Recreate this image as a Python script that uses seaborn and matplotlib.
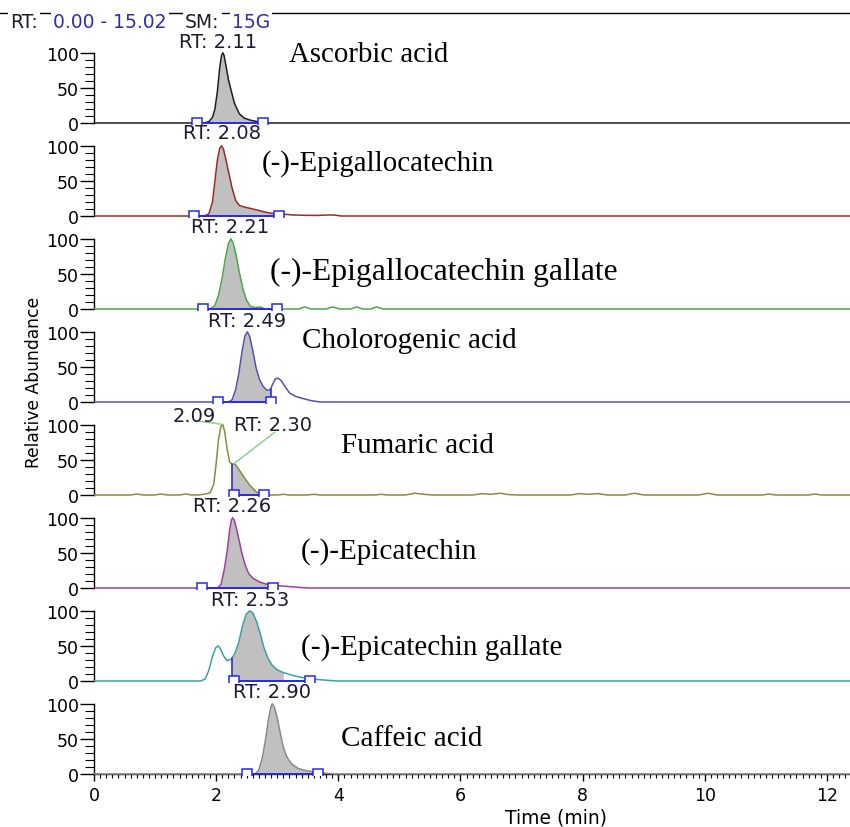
import numpy as np
import matplotlib
matplotlib.use("Agg")
import matplotlib.pyplot as plt
import seaborn as sns
from matplotlib.ticker import MultipleLocator, FixedLocator

# ------------------------------------------------------------------ data
compounds = ["Ascorbic acid", "(-)-Epigallocatechin", "(-)-Epigallocatechin gallate",
             "Cholorogenic acid", "Fumaric acid", "(-)-Epicatechin",
             "(-)-Epicatechin gallate", "Caffeic acid"]
rt_labels = ["RT: 2.11", "RT: 2.08", "RT: 2.21", "RT: 2.49", "RT: 2.30",
             "RT: 2.26", "RT: 2.53", "RT: 2.90"]
fumaric_second_label = "2.09"
header_parts = ["RT:", "0.00 - 15.02", "SM:", "15G"]
x_label = "Time (min)"
y_label = "Relative Abundance"

t_ascorbic = [0, 1.80, 1.88, 1.94, 1.98, 2.02, 2.06, 2.09, 2.11, 2.13, 2.16, 2.20,
              2.24, 2.30, 2.38, 2.46, 2.56, 2.70, 2.85, 12.4]
i_ascorbic = [0, 0, 2, 8, 20, 45, 80, 97, 100, 96, 82, 62, 48, 28, 13, 7, 4, 1.5, 0, 0]

t_egc = [0, 1.80, 1.88, 1.94, 1.98, 2.02, 2.06, 2.09, 2.12, 2.16, 2.21, 2.26, 2.32,
         2.38, 2.45, 2.55, 2.65, 2.78, 2.90, 3.05, 3.25, 3.45, 3.65, 3.85, 3.95, 4.05, 12.4]
i_egc = [0, 0, 3, 20, 50, 80, 97, 100, 95, 80, 60, 40, 22, 15, 13, 11, 9, 6, 4, 3,
         1.5, 1, 0.8, 1.5, 1.2, 0, 0]

t_egcg = [0, 1.90, 1.98, 2.04, 2.10, 2.15, 2.20, 2.24, 2.28, 2.33, 2.38, 2.44, 2.50,
          2.56, 2.64, 2.72, 2.80, 3.35, 3.45, 3.55, 3.80, 3.91, 4.02, 4.20, 4.30, 4.40,
          4.53, 4.63, 4.73, 12.4]
i_egcg = [0, 0, 5, 20, 45, 72, 93, 100, 94, 75, 52, 28, 12, 4, 2, 3, 0, 0, 3, 0, 0,
          3, 0, 0, 3, 0, 0, 3, 0, 0]

t_chloro = [0, 2.20, 2.26, 2.32, 2.37, 2.42, 2.47, 2.51, 2.55, 2.60, 2.65, 2.71, 2.77,
            2.83, 2.88, 2.93, 2.97, 3.01, 3.06, 3.12, 3.20, 3.30, 3.42, 3.55, 3.70, 12.4]
i_chloro = [0, 0, 3, 18, 40, 70, 94, 100, 93, 73, 50, 32, 22, 17, 17, 26, 33, 34, 31,
            23, 13, 8, 5, 2, 0, 0]

t_fumaric = [0, 0.60, 0.70, 0.80, 1.00, 1.10, 1.20, 1.40, 1.50, 1.60, 1.70, 1.80, 1.90,
             1.96, 2.00, 2.04, 2.08, 2.11, 2.14, 2.18, 2.22, 2.26, 2.31, 2.36, 2.45, 2.55,
             2.65, 2.72, 2.80, 3.00, 3.10, 3.20, 3.50, 3.60, 3.70, 4.60, 4.70, 4.80, 5.10,
             5.25, 5.40, 5.55, 6.20, 6.35, 6.50, 6.65, 6.80, 6.95, 7.80, 7.95, 8.10, 8.25,
             8.40, 8.70, 8.85, 9.00, 9.90, 10.05, 10.20, 10.95, 11.05, 11.15, 11.70, 11.80,
             11.90, 12.4]
i_fumaric = [0, 0, 1.5, 0, 0, 1.5, 0, 0, 1.5, 0, 0, 1, 3, 15, 45, 80, 98, 100, 90, 65,
             47, 44, 44, 38, 26, 14, 5, 1, 0, 0, 1, 0, 0, 1, 0, 0, 1, 0, 0, 2.5, 1, 0, 0,
             2, 1, 2.5, 0.5, 0, 0, 2, 1, 2, 0, 0, 2.5, 0, 0, 2.5, 0, 0, 1.5, 0, 0, 1.5,
             0, 0]

t_ec = [0, 2.02, 2.08, 2.13, 2.18, 2.22, 2.25, 2.27, 2.30, 2.34, 2.38, 2.42, 2.47, 2.53,
        2.60, 2.70, 2.80, 2.92, 3.05, 3.20, 3.35, 3.48, 12.4]
i_ec = [0, 0, 5, 25, 52, 82, 97, 100, 96, 82, 66, 50, 34, 21, 14, 9, 6, 4, 3, 2, 1, 0, 0]

t_ecg = [0, 1.75, 1.82, 1.88, 1.94, 1.99, 2.03, 2.07, 2.12, 2.18, 2.25, 2.31, 2.37,
         2.43, 2.49, 2.55, 2.60, 2.66, 2.72, 2.78, 2.85, 2.92, 3.00, 3.10, 3.25, 3.40,
         3.55, 3.75, 3.97, 12.4]
i_ecg = [0, 0, 3, 15, 35, 47, 50, 46, 36, 29, 31, 40, 55, 78, 95, 100, 97, 85, 68, 48,
         32, 22, 16, 12, 8, 5, 3, 1.5, 0, 0]

t_caffeic = [0, 2.64, 2.70, 2.76, 2.81, 2.86, 2.90, 2.92, 2.95, 3.00, 3.05, 3.10, 3.16,
             3.24, 3.34, 3.46, 3.60, 3.75, 3.92, 12.4]
i_caffeic = [0, 0, 6, 25, 50, 80, 97, 100, 96, 80, 58, 38, 24, 14, 8, 5, 3, 1.5, 0, 0]

times = [t_ascorbic, t_egc, t_egcg, t_chloro, t_fumaric, t_ec, t_ecg, t_caffeic]
intensities = [i_ascorbic, i_egc, i_egcg, i_chloro, i_fumaric, i_ec, i_ecg, i_caffeic]

# integration windows (filled area) and boundary markers
fill_lo = [1.68, 1.63, 1.78, 2.02, 2.26, 1.76, 2.26, 2.50]
fill_hi = [2.77, 3.03, 3.00, 2.89, 2.78, 2.93, 3.10, 3.67]
marker_t = [[1.68, 2.77], [1.63, 3.03], [1.78, 3.00], [2.03, 2.90], [2.29, 2.78],
            [1.76, 2.93], [2.29, 3.53], [2.50, 3.67]]
split_t = [None, None, None, 2.89, 2.26, None, 2.26, None]

# ------------------------------------------------------------------ style
trace_colors = ["#1e1e1e", "#9b2a2a", "#4aa84a", "#5252b4", "#8c8a3a",
                "#a03ca0", "#3aa0a0", "#8a8a8a"]
rt_pos = [(2.03, 116), (2.10, 119), (2.23, 117), (2.50, 116), (2.93, 100),
          (2.26, 117), (2.55, 116), (2.91, 117)]
name_pos = [(289, 62), (262, 171), (270, 280), (302, 348), (341, 453),
            (301, 559), (301, 655), (341, 746)]
name_size = [20.8, 20.8, 22.8, 21, 21, 21, 21, 21]

sns.set_style("white")
plt.rcParams["font.family"] = ["DejaVu Sans"]

W, H = 850, 828
fig = plt.figure(figsize=(W / 100, H / 100), dpi=100)

X0, X1 = 94, 850
PX_PER_MIN = 61.08
T_MAX = (X1 - X0) / PX_PER_MIN
Y_LO, Y_HI = -1.5, 131.0
PANEL_PX = 93
px_per_unit = PANEL_PX / (Y_HI - Y_LO)

for k in range(8):
    base_px = 124 + PANEL_PX * k
    bottom_px = base_px + (0 - Y_LO) * px_per_unit
    ax = fig.add_axes([X0 / W, 1 - bottom_px / H, (X1 - X0) / W, PANEL_PX / H])
    ax.patch.set_alpha(0)
    t = np.asarray(times[k], float)
    y = np.asarray(intensities[k], float)

    # filled integration area
    a, b = fill_lo[k], fill_hi[k]
    m = (t > a) & (t < b)
    ft = np.concatenate([[a], t[m], [b]])
    fy = np.concatenate([[np.interp(a, t, y)], y[m], [np.interp(b, t, y)]])
    ax.fill_between(ft, 0, fy, color="#c0c0c0", lw=0, zorder=1)

    sns.lineplot(x=t, y=y, ax=ax, color=trace_colors[k], lw=1.1, zorder=3,
                 estimator=None, sort=False)

    # integration baseline and markers
    mt = marker_t[k]
    ax.plot([mt[0], mt[-1]], [0, 0], color="#2828f0", lw=1.4, zorder=4)
    if split_t[k] is not None:
        s = split_t[k]
        ax.plot([s, s], [0, np.interp(s, t, y)], color="#2828f0", lw=1.2, zorder=4)
    ax.plot(mt, [0] * len(mt), "s", ms=7, mfc="white", mec="#2828f0", mew=1.1,
            zorder=5, clip_on=True)

    # RT label(s)
    rx, ry = rt_pos[k]
    ax.text(rx, ry, rt_labels[k], ha="center", va="center", fontsize=14,
            color="#1c1c30", zorder=6)
    if k == 4:
        ax.text(1.64, 113, fumaric_second_label, ha="center", va="center",
                fontsize=14, color="#1c1c30", zorder=6)
        ax.plot([1.65, 2.11], [106, 100.5], color="#8ed08e", lw=1.1, zorder=5)
        ax.plot([2.96, 2.29], [89.5, 44.5], color="#8ed08e", lw=1.1, zorder=5)

    ax.set_xlim(0, T_MAX)
    ax.set_ylim(Y_LO, Y_HI)
    ax.set_xlabel("")
    ax.set_ylabel("")
    for s in ["top", "right"]:
        ax.spines[s].set_visible(False)
    ax.spines["left"].set_bounds(0, 100)
    ax.spines["left"].set_color("black")
    ax.spines["left"].set_linewidth(1.0)
    ax.yaxis.set_major_locator(FixedLocator([0, 50, 100]))
    ax.yaxis.set_minor_locator(FixedLocator([10, 20, 30, 40, 60, 70, 80, 90]))
    ax.tick_params(axis="y", which="major", left=True, length=10, width=1.0,
                   labelsize=12.5, pad=1, direction="out", color="black",
                   labelcolor="black")
    ax.tick_params(axis="y", which="minor", left=True, length=6.5, width=0.8,
                   direction="out", color="black")
    if k < 7:
        ax.spines["bottom"].set_visible(False)
        ax.tick_params(axis="x", which="both", bottom=False, labelbottom=False)
    else:
        ax.spines["bottom"].set_position(("data", 0))
        ax.spines["bottom"].set_color("black")
        ax.spines["bottom"].set_linewidth(1.0)
        ax.xaxis.set_major_locator(MultipleLocator(2))
        ax.xaxis.set_minor_locator(MultipleLocator(0.1))
        ax.tick_params(axis="x", which="major", bottom=True, length=5, width=1.0,
                       labelsize=12.5, pad=4, direction="out", color="black",
                       labelcolor="black")
        ax.tick_params(axis="x", which="minor", bottom=True, length=3, width=0.8,
                       direction="out", color="black")

    # compound name
    nx, ny = name_pos[k]
    fig.text(nx / W, 1 - ny / H, compounds[k], family="Liberation Serif",
             fontsize=name_size[k], ha="left", va="baseline", color="black")

# header line and text
fig.add_artist(plt.Line2D([0, 1], [1 - 13.5 / H] * 2, transform=fig.transFigure,
                          color="black", lw=1.0))
header_x = [10, 53, 185, 232]
header_c = ["#1c1c30", "#3030a0", "#1c1c30", "#3030a0"]
for txt, hx, hc in zip(header_parts, header_x, header_c):
    fig.text(hx / W, 1 - 28 / H, txt, fontsize=13.5, color=hc, ha="left",
             va="baseline", bbox=dict(facecolor="white", edgecolor="none", pad=1.5))

fig.text(556 / W, 1 - 818 / H, x_label, fontsize=13.5, ha="center", va="center",
         color="black")
fig.text(34 / W, 1 - 382 / H, y_label, fontsize=12.3, ha="center", va="center",
         rotation=90, color="black")

fig.savefig("out.png", dpi=100)
